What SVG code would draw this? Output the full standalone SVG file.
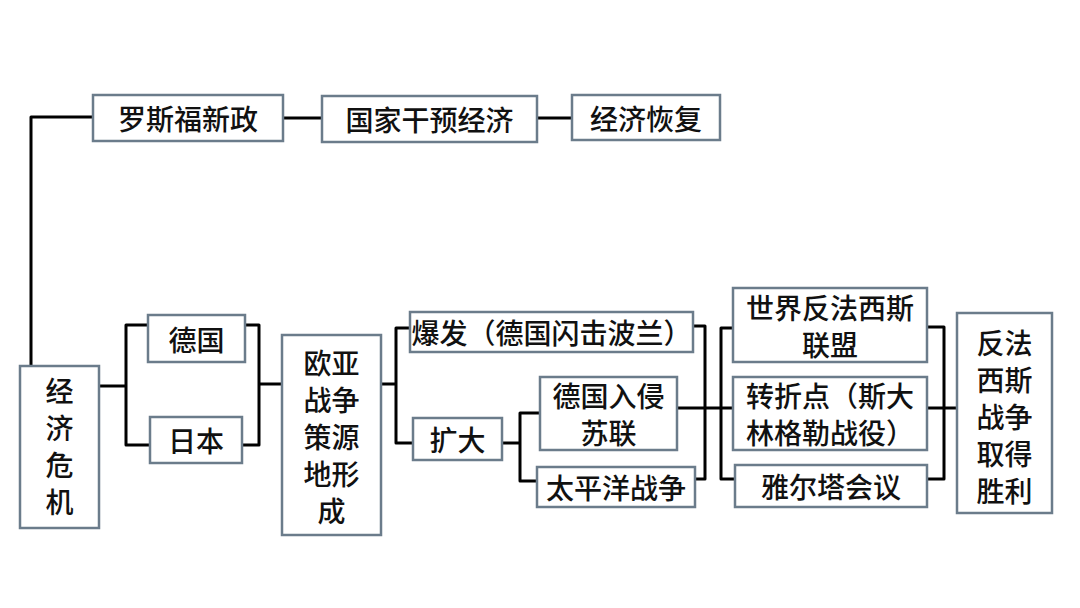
<svg xmlns="http://www.w3.org/2000/svg" width="1080" height="608" viewBox="0 0 1080 608">
<style>
.box{fill:#ffffff;stroke:#6b7c8b;stroke-width:2.5}
.t{font-family:"Noto Sans CJK SC","Noto Sans",sans-serif;font-size:28px;font-weight:500;fill:#111;text-anchor:middle;dominant-baseline:central}
.ln{fill:none;stroke:#000;stroke-width:3;stroke-linejoin:round}
</style>
<rect width="1080" height="608" fill="#ffffff"/>
<g id="connectors">
<path class="ln" d="M31,366 V117 H93"/>
<path class="ln" d="M283,118 H322"/>
<path class="ln" d="M537,118 H572"/>
<path class="ln" d="M100,386 H126"/>
<path class="ln" d="M148,325 H126 V445 H150"/>
<path class="ln" d="M245,325 H259 V445 H242"/>
<path class="ln" d="M259,384 H282"/>
<path class="ln" d="M381,384 H396"/>
<path class="ln" d="M410,328 H396 V443 H413"/>
<path class="ln" d="M502,443 H520"/>
<path class="ln" d="M540,413 H520 V481 H537"/>
<path class="ln" d="M693,326 H705 V479 H695"/>
<path class="ln" d="M677,408 H733"/>
<path class="ln" d="M733,328 H721 V479 H735"/>
<path class="ln" d="M927,327 H944 V479 H927"/>
<path class="ln" d="M927,408 H957"/>
</g>
<g id="n1"><rect class="box" x="93" y="95" width="190" height="46"/><text class="t" x="188" y="118">罗斯福新政</text></g>
<g id="n2"><rect class="box" x="322" y="96" width="215" height="46"/><text class="t" x="429.5" y="119">国家干预经济</text></g>
<g id="n3"><rect class="box" x="572" y="95" width="148" height="45"/><text class="t" x="646" y="117.5">经济恢复</text></g>
<g id="n4"><rect class="box" x="20" y="366" width="79" height="162"/>
<text class="t" x="59.5" y="390">经</text><text class="t" x="59.5" y="427">济</text><text class="t" x="59.5" y="464">危</text><text class="t" x="59.5" y="501">机</text></g>
<g id="n5"><rect class="box" x="148" y="315" width="97" height="47"/><text class="t" x="196.5" y="338.5">德国</text></g>
<g id="n6"><rect class="box" x="150" y="417" width="92" height="46"/><text class="t" x="196" y="440">日本</text></g>
<g id="n7"><rect class="box" x="282" y="335" width="99" height="200"/>
<text class="t" x="331.5" y="362">欧亚</text><text class="t" x="331.5" y="399">战争</text><text class="t" x="331.5" y="436">策源</text><text class="t" x="331.5" y="473">地形</text><text class="t" x="331.5" y="510">成</text></g>
<g id="n8"><rect class="box" x="410" y="312" width="283" height="40"/><text class="t" x="551.5" y="332">爆发（德国闪击波兰）</text></g>
<g id="n9"><rect class="box" x="413" y="418" width="89" height="42"/><text class="t" x="457.5" y="439">扩大</text></g>
<g id="n10"><rect class="box" x="540" y="377" width="137" height="73"/>
<text class="t" x="608.5" y="395">德国入侵</text><text class="t" x="608.5" y="432">苏联</text></g>
<g id="n11"><rect class="box" x="537" y="467" width="158" height="40"/><text class="t" x="616" y="487">太平洋战争</text></g>
<g id="n12"><rect class="box" x="733" y="288" width="194" height="74"/>
<text class="t" x="830" y="307">世界反法西斯</text><text class="t" x="830" y="344">联盟</text></g>
<g id="n13"><rect class="box" x="733" y="377" width="194" height="73"/>
<text class="t" x="830" y="395">转折点（斯大</text><text class="t" x="830" y="432">林格勒战役）</text></g>
<g id="n14"><rect class="box" x="735" y="465" width="192" height="42"/><text class="t" x="831" y="486">雅尔塔会议</text></g>
<g id="n15"><rect class="box" x="957" y="313" width="95" height="200"/>
<text class="t" x="1004.5" y="342">反法</text><text class="t" x="1004.5" y="379">西斯</text><text class="t" x="1004.5" y="416">战争</text><text class="t" x="1004.5" y="453">取得</text><text class="t" x="1004.5" y="490">胜利</text></g>
</svg>
